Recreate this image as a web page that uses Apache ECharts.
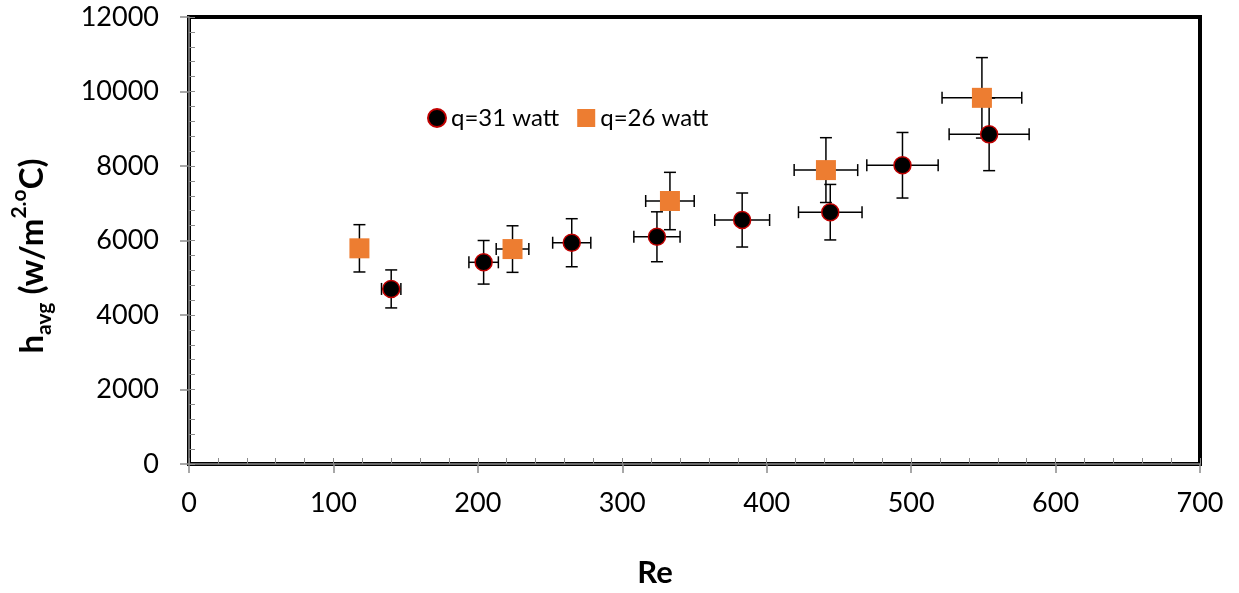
<!DOCTYPE html>
<html>
<head>
<meta charset="utf-8">
<script src="https://cdn.jsdelivr.net/npm/echarts@6/dist/echarts.min.js"></script>
<style>
html,body{margin:0;padding:0;background:#fff;}
#chart{width:1239px;height:593px;}
</style>
</head>
<body>
<div id="chart"></div>
<script>
// q = 31 watt
const re31 = [140, 204, 265, 324, 383, 444, 494, 554];
const h31 = [4700, 5415, 5940, 6100, 6550, 6760, 8020, 8850];
const hErr31 = [510, 585, 645, 670, 725, 745, 880, 975];
const reErr31 = [6.7, 10.2, 13.2, 16, 19, 22, 24.7, 27.7];
// q = 26 watt
const re26 = [118, 224, 333, 441, 549];
const h26 = [5790, 5770, 7060, 7890, 9830];
const hErr26 = [635, 625, 770, 870, 1080];
const reErr26 = [5.9, 11.3, 16.8, 22, 27.6];

const xTicks = [0, 100, 200, 300, 400, 500, 600, 700];
const yTicks = [0, 2000, 4000, 6000, 8000, 10000, 12000];
const seriesNames = ['q=31 watt', 'q=26 watt'];

const FONT = 'Lato';

function pts(xs, ys) { return xs.map((x, i) => [x, ys[i]]); }
function errData(xs, ys, xe, ye) { return xs.map((x, i) => [x, ys[i], xe[i], ye[i]]); }

function renderErr(params, api) {
  const x = api.value(0), y = api.value(1), xe = api.value(2), ye = api.value(3);
  const top = api.coord([x, y + ye]);
  const bot = api.coord([x, y - ye]);
  const lft = api.coord([x - xe, y]);
  const rgt = api.coord([x + xe, y]);
  const cap = 6;
  const st = { stroke: '#000', lineWidth: 1.5 };
  return {
    type: 'group',
    children: [
      { type: 'line', shape: { x1: top[0], y1: top[1], x2: bot[0], y2: bot[1] }, style: st },
      { type: 'line', shape: { x1: top[0] - cap, y1: top[1], x2: top[0] + cap, y2: top[1] }, style: st },
      { type: 'line', shape: { x1: bot[0] - cap, y1: bot[1], x2: bot[0] + cap, y2: bot[1] }, style: st },
      { type: 'line', shape: { x1: lft[0], y1: lft[1], x2: rgt[0], y2: rgt[1] }, style: st },
      { type: 'line', shape: { x1: lft[0], y1: lft[1] - cap, x2: lft[0], y2: lft[1] + cap }, style: st },
      { type: 'line', shape: { x1: rgt[0], y1: rgt[1] - cap, x2: rgt[0], y2: rgt[1] + cap }, style: st }
    ]
  };
}

const chart = echarts.init(document.getElementById('chart'), null, { renderer: 'canvas' });

const axisGray = '#8c8c8c';
const plain = v => String(v);

chart.setOption({
  backgroundColor: '#fff',
  animation: false,
  textStyle: { fontFamily: FONT },
  grid: {
    left: 189, top: 17, width: 1011, height: 447,
    show: true, borderColor: '#000', borderWidth: 4, backgroundColor: 'transparent'
  },
  legend: {
    left: 422, top: 101,
    itemWidth: 18, itemHeight: 18, itemGap: 18,
    textStyle: { fontFamily: FONT, fontSize: 24, color: '#000' },
    data: [
      { name: seriesNames[0], icon: 'circle' },
      { name: seriesNames[1], icon: 'rect' }
    ]
  },
  graphic: [
    {
      type: 'text', x: 32, y: 256, rotation: Math.PI / 2,
      style: {
        text: '{b|h}{sub|avg}{b| (w/m}{sup|2.o}{b|C)}',
        align: 'center', verticalAlign: 'middle',
        rich: {
          b: { fontFamily: FONT, fontSize: 33, fontWeight: 'bold', fill: '#000', lineHeight: 46, verticalAlign: 'middle' },
          sub: { fontFamily: FONT, fontSize: 21, fontWeight: 'bold', fill: '#000', lineHeight: 46, verticalAlign: 'bottom' },
          sup: { fontFamily: FONT, fontSize: 21, fontWeight: 'bold', fill: '#000', lineHeight: 46, verticalAlign: 'top' }
        }
      }
    },
    {
      type: 'text', x: 655, y: 573,
      style: {
        text: 'Re', align: 'center', verticalAlign: 'middle',
        fontFamily: FONT, fontSize: 31, fontWeight: 'bold', fill: '#000'
      }
    }
  ],
  xAxis: [
    {
      type: 'value', min: xTicks[0], max: xTicks[xTicks.length - 1], interval: 100,
      splitLine: { show: false },
      axisLine: { show: true, onZero: false, lineStyle: { color: axisGray, width: 1.5 } },
      axisTick: { show: true, inside: false, length: 9, lineStyle: { color: axisGray, width: 1.5 } },
      axisLabel: { fontFamily: FONT, fontSize: 27, color: '#000', margin: 26, formatter: plain }
    },
    {
      type: 'value', min: 0, max: 700, interval: 20, position: 'bottom',
      splitLine: { show: false },
      axisLine: { show: false },
      axisTick: { show: true, inside: true, length: 6, lineStyle: { color: axisGray, width: 1 } },
      axisLabel: { show: false }
    }
  ],
  yAxis: [
    {
      type: 'value', min: yTicks[0], max: yTicks[yTicks.length - 1], interval: 2000,
      splitLine: { show: false },
      axisLine: { show: true, onZero: false, lineStyle: { color: axisGray, width: 1.5 } },
      axisTick: { show: true, inside: false, length: 9, lineStyle: { color: axisGray, width: 1.5 } },
      axisLabel: { fontFamily: FONT, fontSize: 27, color: '#000', margin: 30, formatter: plain }
    },
    {
      type: 'value', min: 0, max: 12000, interval: 400, position: 'left',
      splitLine: { show: false },
      axisLine: { show: false },
      axisTick: { show: true, inside: true, length: 6, lineStyle: { color: axisGray, width: 1 } },
      axisLabel: { show: false }
    }
  ],
  series: [
    {
      type: 'custom', name: 'err31', renderItem: renderErr, z: 2,
      data: errData(re31, h31, reErr31, hErr31), silent: true
    },
    {
      type: 'custom', name: 'err26', renderItem: renderErr, z: 2,
      data: errData(re26, h26, reErr26, hErr26), silent: true
    },
    {
      type: 'scatter', name: seriesNames[1], data: pts(re26, h26), z: 3,
      symbol: 'rect', symbolSize: 20,
      itemStyle: { color: '#ED7D31', borderWidth: 0, opacity: 1 }
    },
    {
      type: 'scatter', name: seriesNames[0], data: pts(re31, h31), z: 4,
      symbol: 'circle', symbolSize: 17,
      itemStyle: { color: '#000', borderColor: '#C00000', borderWidth: 1.5, opacity: 1 }
    }
  ]
});
</script>
</body>
</html>
